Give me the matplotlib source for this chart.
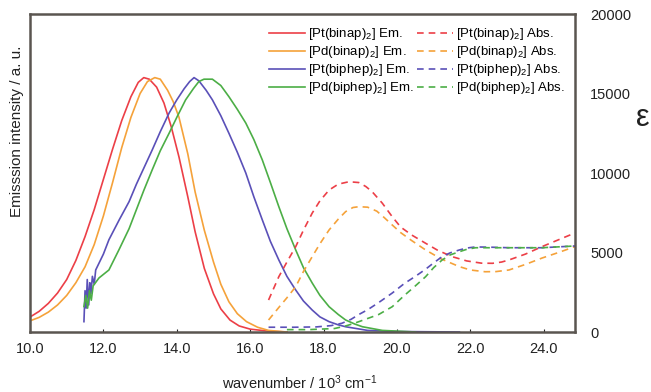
import numpy as np
import matplotlib.pyplot as plt

plt.rcParams['font.family'] = ['Liberation Sans', 'DejaVu Sans']
plt.rcParams['mathtext.fontset'] = 'custom'
plt.rcParams['mathtext.rm'] = 'Liberation Sans'
plt.rcParams['mathtext.it'] = 'Liberation Sans'

# -----------------------------
# Data (wavenumber / 10^3 cm^-1, epsilon scale)
# -----------------------------
pt_binap_em_x = [10.0, 10.25, 10.5, 10.75, 11.0, 11.25, 11.5, 11.75, 12.0, 12.25, 12.5, 12.75, 12.95, 13.1,
                 13.25, 13.45, 13.65, 13.85, 14.06, 14.3, 14.5, 14.75, 15.0, 15.2, 15.45, 15.7, 16.0, 16.5, 17.0]
pt_binap_em_y = [940, 1300, 1800, 2450, 3300, 4500, 6000, 7700, 9600, 11500, 13300, 14800, 15700, 16000,
                 15900, 15400, 14400, 12900, 11000, 8500, 6300, 4000, 2400, 1450, 750, 380, 180, 50, 0]

pd_binap_em_x = [10.0, 10.25, 10.5, 10.75, 11.0, 11.25, 11.5, 11.75, 12.0, 12.25, 12.5, 12.75, 13.0, 13.2,
                 13.4, 13.55, 13.75, 13.9, 14.06, 14.3, 14.5, 14.75, 15.0, 15.2, 15.42, 15.65, 15.9, 16.2, 16.5, 17.0]
pd_binap_em_y = [700, 920, 1250, 1700, 2300, 3100, 4100, 5500, 7300, 9400, 11600, 13500, 15000, 15750,
                 16000, 15900, 15200, 14500, 13500, 11200, 8800, 6400, 4400, 3000, 1900, 1150, 650, 300, 100, 0]

pt_biphep_em_x = [11.47, 11.5, 11.53, 11.56, 11.6, 11.63, 11.66, 11.7, 11.75, 11.79, 12.0, 12.15, 12.43, 12.7,
                  12.9, 13.1, 13.33, 13.55, 13.79, 14.0, 14.2, 14.35, 14.47, 14.6, 14.8, 14.97, 15.2, 15.42,
                  15.65, 15.88, 16.1, 16.33, 16.55, 16.78, 17.0, 17.24, 17.45, 17.69, 17.9, 18.15, 18.4, 18.6,
                  19.2, 20.0, 21.7]
pt_biphep_em_y = [650, 2600, 1500, 3300, 1700, 3100, 2400, 3500, 3000, 3900, 4900, 5800, 7050, 8200,
                  9300, 10300, 11450, 12600, 13770, 14600, 15300, 15750, 16000, 15800, 15200, 14600, 13600, 12500,
                  11300, 10000, 8500, 7050, 5700, 4530, 3500, 2640, 1950, 1380, 950, 650, 450, 330,
                  100, 30, 0]

pd_biphep_em_x = [11.47, 11.52, 11.57, 11.62, 11.67, 11.72, 11.88, 12.15, 12.43, 12.7, 12.9, 13.1, 13.33,
                  13.55, 13.79, 14.0, 14.24, 14.45, 14.6, 14.74, 14.97, 15.2, 15.42, 15.65, 15.88, 16.1, 16.33,
                  16.55, 16.78, 17.0, 17.24, 17.45, 17.69, 17.9, 18.15, 18.4, 18.6, 18.85, 19.06, 19.6, 20.5]
pd_biphep_em_y = [1600, 2300, 1500, 2600, 2000, 2900, 3400, 3900, 5200, 6500, 7700, 8900, 10200,
                  11400, 12500, 13500, 14600, 15300, 15750, 15900, 15900, 15500, 14800, 14000, 13140, 12100, 10820,
                  9400, 7880, 6500, 5160, 4050, 3080, 2300, 1590, 1100, 755, 500, 330, 100, 0]

pt_binap_abs_x = [16.5, 16.78, 17.0, 17.24, 17.45, 17.69, 17.9, 18.15, 18.4, 18.69, 18.96, 19.15, 19.32, 19.6,
                  19.87, 20.1, 20.4, 20.78, 21.1, 21.5, 21.9, 22.3, 22.6, 22.85, 23.05, 23.5, 23.95, 24.4, 24.85]
pt_binap_abs_y = [2010, 3480, 4400, 5370, 6400, 7480, 8250, 8930, 9300, 9450, 9400, 9150, 8830, 8100,
                  7250, 6600, 6100, 5580, 5150, 4740, 4470, 4330, 4320, 4400, 4530, 4900, 5370, 5800, 6230]

pd_binap_abs_x = [16.5, 16.8, 17.0, 17.24, 17.45, 17.69, 17.9, 18.15, 18.4, 18.6, 18.8, 18.96, 19.2, 19.45,
                  19.65, 19.87, 20.1, 20.4, 20.78, 21.2, 21.7, 22.0, 22.4, 22.7, 23.05, 23.5, 23.95, 24.4, 24.85]
pd_binap_abs_y = [755, 1600, 2150, 2850, 3800, 4740, 5550, 6420, 7100, 7570, 7830, 7880, 7850, 7600,
                  7200, 6730, 6250, 5750, 5160, 4600, 4110, 3900, 3790, 3800, 3900, 4250, 4650, 5000, 5370]

pt_biphep_abs_x = [16.5, 17.2, 17.8, 18.2, 18.5, 18.75, 18.96, 19.2, 19.5, 19.87, 20.2, 20.5, 20.78, 21.0,
                   21.23, 21.45, 21.7, 21.9, 22.14, 22.6, 23.05, 23.95, 24.85]
pt_biphep_abs_y = [300, 300, 320, 400, 550, 800, 1100, 1400, 1850, 2450, 3050, 3500, 3950, 4350,
                   4740, 4980, 5160, 5280, 5350, 5330, 5300, 5300, 5410]

pd_biphep_abs_x = [17.0, 17.6, 18.3, 18.6, 18.8, 18.96, 19.2, 19.5, 19.87, 20.2, 20.5, 20.78, 21.0, 21.23,
                   21.45, 21.7, 21.9, 22.14, 23.05, 23.95, 24.85]
pd_biphep_abs_y = [150, 150, 220, 380, 520, 650, 850, 1100, 1590, 2300, 2900, 3480, 4050, 4530,
                   4850, 5050, 5200, 5300, 5300, 5300, 5410]

labels_em = [r'[Pt(binap)$_2$] Em.', r'[Pd(binap)$_2$] Em.', r'[Pt(biphep)$_2$] Em.', r'[Pd(biphep)$_2$] Em.']
labels_abs = [r'[Pt(binap)$_2$] Abs.', r'[Pd(binap)$_2$] Abs.', r'[Pt(biphep)$_2$] Abs.', r'[Pd(biphep)$_2$] Abs.']
colors = ['#ec3f47', '#f5a23a', '#5a50b8', '#4cae46']

x_ticks = [10, 12, 14, 16, 18, 20, 22, 24]
y_ticks = [0, 5000, 10000, 15000, 20000]

# -----------------------------
# Plot
# -----------------------------
fig = plt.figure(figsize=(6.51, 3.92), dpi=100)
ax = fig.add_axes([30 / 651, 1 - 332 / 392, 545 / 651, 318 / 392])

em_sets = [(pt_binap_em_x, pt_binap_em_y), (pd_binap_em_x, pd_binap_em_y),
           (pt_biphep_em_x, pt_biphep_em_y), (pd_biphep_em_x, pd_biphep_em_y)]
abs_sets = [(pt_binap_abs_x, pt_binap_abs_y), (pd_binap_abs_x, pd_binap_abs_y),
            (pt_biphep_abs_x, pt_biphep_abs_y), (pd_biphep_abs_x, pd_biphep_abs_y)]

handles = []
for (xs, ys), c, lab in zip(em_sets, colors, labels_em):
    h, = ax.plot(xs, ys, color=c, lw=1.2, label=lab)
    handles.append(h)
for (xs, ys), c, lab in zip(abs_sets, colors, labels_abs):
    h, = ax.plot(xs, ys, color=c, lw=1.2, dashes=(4, 3), label=lab)
    handles.append(h)

ax.set_xlim(10, 24.85)
ax.set_ylim(0, 20000)
ax.set_xticks(x_ticks)
ax.set_xticklabels([f'{t:.1f}' for t in x_ticks])
ax.tick_params(axis='x', direction='in', length=2, pad=7, labelsize=10.5, colors='#222222')
ax.yaxis.tick_right()
ax.set_yticks(y_ticks)
ax.set_yticklabels([str(t) for t in y_ticks])
ax.tick_params(axis='y', length=0, pad=11, labelsize=10.5, colors='#222222')
for sp in ax.spines.values():
    sp.set_color('#5a5550')
    sp.set_linewidth(1.8)

ax.legend(handles=handles, ncol=2, loc='upper right', bbox_to_anchor=(0.995, 0.986), frameon=False,
          fontsize=9.5, handlelength=2.7, handletextpad=0.2, columnspacing=0.3, labelspacing=0.15,
          borderaxespad=0.2)

fig.text(300 / 651, 1 - 383 / 392, r'wavenumber / 10$^3$ cm$^{-1}$', ha='center', va='center',
         fontsize=10.5, color='#222222')
fig.text(17 / 651, 1 - 131 / 392, 'Emisssion intensity / a. u.', rotation=90, ha='center', va='center',
         fontsize=11, color='#222222')
fig.text(643 / 651, 1 - 118 / 392, 'ε', ha='center', va='center', fontsize=22, color='#222222')

fig.savefig('out.png', dpi=100)
